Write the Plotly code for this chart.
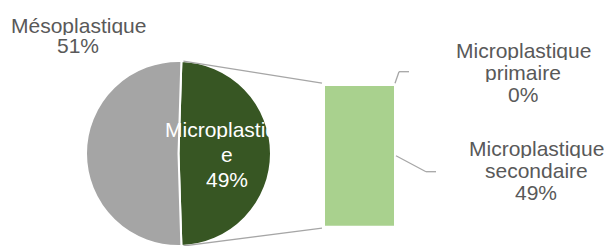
import math
import plotly.graph_objects as go

# ---- data ----
pie_labels = ["Microplastique", "Mésoplastique"]
pie_values = [49, 51]
pie_colors = ["#375623", "#A5A5A5"]

bar_labels = ["Microplastique primaire", "Microplastique secondaire"]
bar_values = [0, 49]
bar_color = "#A9D18E"

W, H = 606, 246
FONT = "Liberation Sans, Arial, sans-serif"
FS = 21
GRAY_TXT = "#595959"
LINE_COL = "#A6A6A6"


def px(x):
    return x / W


def py(y):
    return 1 - y / H


# geometry (pixels)
pie_x0, pie_x1 = 86, 271
pie_top = 61
pie_r = (pie_x1 - pie_x0) / 2
pie_cx = (pie_x0 + pie_x1) / 2
pie_cy = H - pie_r

bar_x0, bar_x1 = 325, 394
bar_top, bar_bot = 85.7, 225.7

fig = go.Figure()

total_pie = sum(pie_values)
first_angle = 90 - 360 * pie_values[0] / total_pie / 2  # centre first slice at 3 o'clock

fig.add_trace(go.Pie(
    labels=pie_labels, values=pie_values, sort=False, direction="clockwise",
    rotation=first_angle,
    marker=dict(colors=pie_colors, line=dict(color="white", width=2)),
    textinfo="none", hoverinfo="label+percent", showlegend=False,
    domain=dict(x=[px(pie_x0), px(pie_x1)], y=[0, py(pie_top)]),
))

# stacked bar: secondaire at bottom, primaire on top
total_bar = sum(bar_values)
for lab, val in zip(bar_labels[::-1], bar_values[::-1]):
    fig.add_trace(go.Bar(x=[0], y=[val], width=[1], name=lab,
                         marker=dict(color=bar_color, line=dict(width=0)),
                         showlegend=False))

fig.update_layout(
    width=W, height=H, margin=dict(l=0, r=0, t=0, b=0),
    paper_bgcolor="white", plot_bgcolor="rgba(0,0,0,0)",
    barmode="stack",
    xaxis=dict(domain=[px(bar_x0), px(bar_x1)], range=[-0.5, 0.5], visible=False, fixedrange=True),
    yaxis=dict(domain=[py(bar_bot), py(bar_top)], range=[0, total_bar], visible=False, fixedrange=True),
    font=dict(family=FONT, size=FS, color=GRAY_TXT),
)


def ybar(v):
    return bar_bot - v / total_bar * (bar_bot - bar_top)


# connector lines from pie slice edges to bar
half = 360 * pie_values[0] / total_pie / 2
a_top = math.radians(90 - half)
a_bot = math.radians(90 + half)
p_top = (pie_cx + pie_r * math.sin(a_top), pie_cy - pie_r * math.cos(a_top))
p_bot = (pie_cx + pie_r * math.sin(a_bot), pie_cy - pie_r * math.cos(a_bot))
shapes = []


def seg(x0, y0, x1, y1):
    shapes.append(dict(type="line", xref="paper", yref="paper",
                       x0=px(x0), y0=py(y0), x1=px(x1), y1=py(y1),
                       line=dict(color=LINE_COL, width=1.3)))


seg(p_top[0] + 2, p_top[1], bar_x0 - 3, bar_top - 2.5)
seg(p_bot[0] + 2, p_bot[1], bar_x0 - 3, bar_bot + 2.5)

# leader lines
y_prim = ybar(total_bar)
seg(bar_x1 + 1, y_prim - 2.5, bar_x1 + 5, y_prim - 14)
seg(bar_x1 + 5, y_prim - 14, bar_x1 + 15, y_prim - 14)
y_sec = ybar(bar_values[1] / 2)
seg(bar_x1 + 2, y_sec, bar_x1 + 32, y_sec + 16)
seg(bar_x1 + 32, y_sec + 16, bar_x1 + 42, y_sec + 16)

fig.update_layout(shapes=shapes)


def pct(v, tot):
    return f"{round(100 * v / tot)}%"


def label(lines, cx, baselines, color=GRAY_TXT):
    for t, b in zip(lines, baselines):
        fig.add_annotation(text=t, x=px(cx), y=py(b - 0.35 * FS), xref="paper", yref="paper",
                           xanchor="center", yanchor="middle", showarrow=False,
                           height=19, borderpad=0,
                           font=dict(family=FONT, size=FS, color=color))


label([pie_labels[1], pct(pie_values[1], total_pie)], 78, [33, 53])
name = pie_labels[0]
label([name[:-1], name[-1:], pct(pie_values[0], total_pie)], 227, [137, 162, 186.5], color="white")
p1 = bar_labels[0].split(" ")
label([p1[0], p1[1], pct(bar_values[0], total_pie)], 523, [58, 80, 102])
p2 = bar_labels[1].split(" ")
label([p2[0], p2[1], pct(bar_values[1], total_pie)], 536, [156, 178, 200])

fig.write_html("out.html", config={"displayModeBar": False},
               post_script="document.body.style.margin='0';document.body.style.overflow='hidden';")
